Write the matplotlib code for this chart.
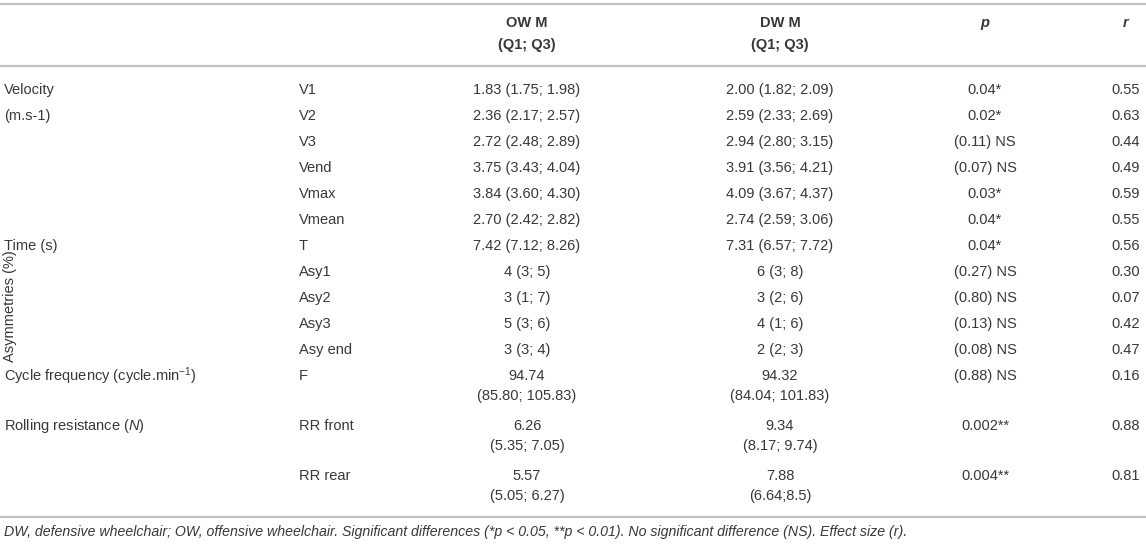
import matplotlib
matplotlib.use('Agg')
from matplotlib import pyplot as plt

plt.rcParams['font.family'] = ['Liberation Sans', 'DejaVu Sans']
plt.rcParams['mathtext.fontset'] = 'custom'
plt.rcParams['mathtext.rm'] = 'Liberation Sans'
plt.rcParams['mathtext.it'] = 'Liberation Sans:italic'

# table content
variables = ['V1', 'V2', 'V3', 'Vend', 'Vmax', 'Vmean', 'T',
             'Asy1', 'Asy2', 'Asy3', 'Asy end', 'F', 'RR front', 'RR rear']
ow_median = ['1.83', '2.36', '2.72', '3.75', '3.84', '2.70', '7.42',
             '4', '3', '5', '3', '94.74', '6.26', '5.57']
ow_iqr = ['(1.75; 1.98)', '(2.17; 2.57)', '(2.48; 2.89)', '(3.43; 4.04)',
          '(3.60; 4.30)', '(2.42; 2.82)', '(7.12; 8.26)', '(3; 5)', '(1; 7)',
          '(3; 6)', '(3; 4)', '(85.80; 105.83)', '(5.35; 7.05)', '(5.05; 6.27)']
dw_median = ['2.00', '2.59', '2.94', '3.91', '4.09', '2.74', '7.31',
             '6', '3', '4', '2', '94.32', '9.34', '7.88']
dw_iqr = ['(1.82; 2.09)', '(2.33; 2.69)', '(2.80; 3.15)', '(3.56; 4.21)',
          '(3.67; 4.37)', '(2.59; 3.06)', '(6.57; 7.72)', '(3; 8)', '(2; 6)',
          '(1; 6)', '(2; 3)', '(84.04; 101.83)', '(8.17; 9.74)', '(6.64;8.5)']
p_values = ['0.04*', '0.02*', '(0.11) NS', '(0.07) NS', '0.03*', '0.04*',
            '0.04*', '(0.27) NS', '(0.80) NS', '(0.13) NS', '(0.08) NS',
            '(0.88) NS', '0.002**', '0.004**']
r_values = ['0.55', '0.63', '0.44', '0.49', '0.59', '0.55', '0.56',
            '0.30', '0.07', '0.42', '0.47', '0.16', '0.88', '0.81']
two_line = [False] * 11 + [True] * 3

group_labels = {0: 'Velocity', 1: '(m.s-1)', 6: 'Time (s)',
                11: r'Cycle frequency (cycle.min$^{-1}$)',
                12: r'Rolling resistance ($\mathit{N}$)'}
footer = ('DW, defensive wheelchair; OW, offensive wheelchair. Significant differences '
          '(*p < 0.05, **p < 0.01). No significant difference (NS). Effect size (r).')

TXT = '#383838'
LINE = '#c0c0c0'
FS = 10.5

fig = plt.figure(figsize=(11.46, 5.46), dpi=100)
ax = fig.add_axes([0, 0, 1, 1])
ax.set_xlim(0, 1146)
ax.set_ylim(546, 0)
ax.axis('off')

x_var, x_ow, x_dw, x_p, x_r = 299, 527, 780, 985, 1126

# rules
for y in (4, 66, 517):
    ax.plot([0, 1146], [y, y], color=LINE, lw=1.6, solid_capstyle='butt')

# header
hdr = dict(fontsize=FS, color=TXT, ha='center', va='center', fontweight='bold')
ax.text(x_ow, 23, 'OW M', **hdr)
ax.text(x_ow, 45, '(Q1; Q3)', **hdr)
ax.text(x_dw, 23, 'DW M', **hdr)
ax.text(x_dw, 45, '(Q1; Q3)', **hdr)
ax.text(x_p, 23, 'p', style='italic', **hdr)
ax.text(x_r, 23, 'r', style='italic', **hdr)

body = dict(fontsize=FS, color=TXT, va='center')
y = 90
for i, var in enumerate(variables):
    if i in group_labels:
        ax.text(4, y, group_labels[i], ha='left', **body)
    ax.text(x_var, y, var, ha='left', **body)
    if two_line[i]:
        ax.text(x_ow, y, ow_median[i], ha='center', **body)
        ax.text(x_ow, y + 20, ow_iqr[i], ha='center', **body)
        ax.text(x_dw, y, dw_median[i], ha='center', **body)
        ax.text(x_dw, y + 20, dw_iqr[i], ha='center', **body)
    else:
        ax.text(x_ow, y, ow_median[i] + ' ' + ow_iqr[i], ha='center', **body)
        ax.text(x_dw, y, dw_median[i] + ' ' + dw_iqr[i], ha='center', **body)
    ax.text(x_p, y, p_values[i], ha='center', **body)
    ax.text(x_r, y, r_values[i], ha='center', **body)
    y += 50 if two_line[i] else 26

ax.text(10, 306, 'Asymmetries (%)', rotation=90, ha='center', **body)

ax.text(4, 532, footer, fontsize=10.2, style='italic', color=TXT, ha='left', va='center')

fig.savefig('out.png', dpi=100)
